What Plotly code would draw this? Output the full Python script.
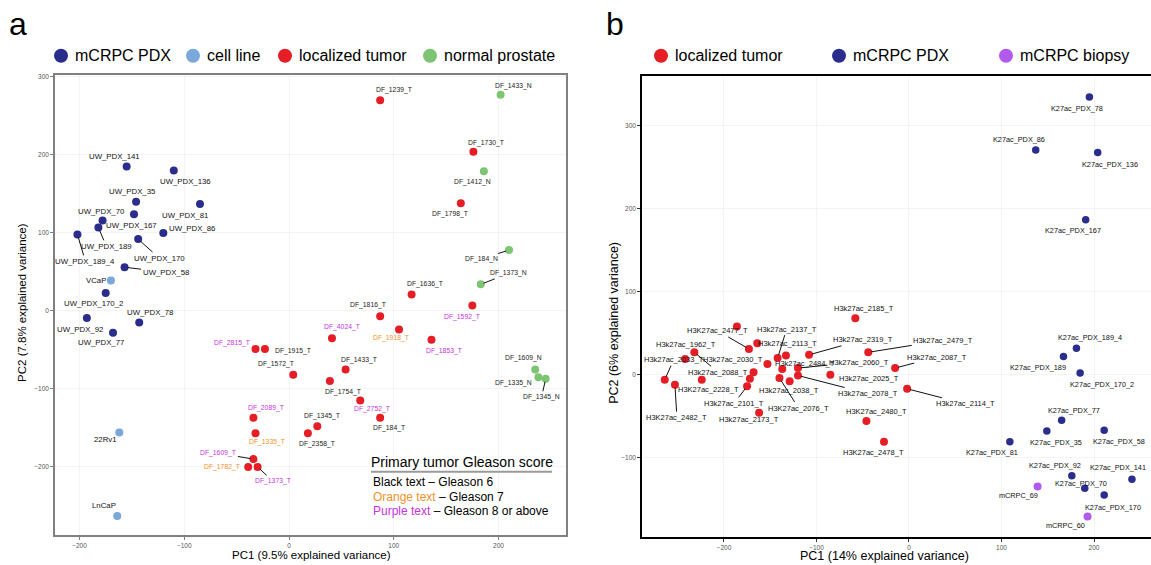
import plotly.graph_objects as go

W, H = 1151, 565

# ---------------- Panel a data ----------------
a_pdx_names = ["UW_PDX_141", "UW_PDX_136", "UW_PDX_35", "UW_PDX_81", "UW_PDX_167", "UW_PDX_70",
               "UW_PDX_189", "UW_PDX_189_4", "UW_PDX_86", "UW_PDX_170", "UW_PDX_58", "UW_PDX_170_2",
               "UW_PDX_92", "UW_PDX_78", "UW_PDX_77"]
a_pdx_pc1 = [-155, -110, -146, -85, -148, -178, -182, -202, -120, -144, -157, -175, -193, -143, -168]
a_pdx_pc2 = [185, 180, 140, 137, 124, 116, 107, 98, 100, 92, 56, 23, -9, -15, -28]

a_cell_names = ["VCaP", "22Rv1", "LnCaP"]
a_cell_pc1 = [-170, -162, -164]
a_cell_pc2 = [39, -156, -263]

a_tumor_names = ["DF_1239_T", "DF_1730_T", "DF_1798_T", "DF_1636_T", "DF_1592_T", "DF_1816_T",
                 "DF_1918_T", "DF_4024_T", "DF_1853_T", "DF_2815_T", "DF_1915_T", "DF_1572_T",
                 "DF_1433_T", "DF_1754_T", "DF_2752_T", "DF_184_T", "DF_2089_T", "DF_1345_T",
                 "DF_1335_T", "DF_2358_T", "DF_1609_T", "DF_1782_T", "DF_1373_T"]
a_tumor_pc1 = [87, 176, 164, 117, 175, 87, 105, 41, 136, -32, -23, 4, 54, 39, 68, 87, -34, 27,
               -32, 18, -34, -39, -30]
a_tumor_pc2 = [270, 204, 138, 21, 7, -7, -24, -35, -37, -49, -49, -82, -75, -90, -115, -137,
               -137, -148, -157, -157, -190, -200, -200]
a_tumor_gleason = [6, 6, 6, 6, 8, 6, 7, 8, 8, 8, 6, 6, 6, 6, 8, 6, 8, 6, 7, 6, 8, 7, 8]

a_normal_names = ["DF_1433_N", "DF_1412_N", "DF_184_N", "DF_1373_N", "DF_1609_N", "DF_1335_N", "DF_1345_N"]
a_normal_pc1 = [202, 186, 210, 183, 235, 238, 245]
a_normal_pc2 = [277, 179, 78, 34, -75, -85, -87]

a_legend = ["mCRPC PDX", "cell line", "localized tumor", "normal prostate"]
a_x_ticks = [-200, -100, 0, 100, 200]
a_y_ticks = [-200, -100, 0, 100, 200, 300]

# ---------------- Panel b data ----------------
b_tumor_names = ["H3k27ac_2185_T", None, None, "H3K27ac_2477_T", "H3k27ac_2088_T", "H3k27ac_1962_T",
                 "H3k27ac_2113_T", "H3k27ac_2137_T", "H3k27ac_2319_T", "H3k27ac_2479_T", "H3k27ac_2030_T",
                 "H3k27ac_2484_T", "H3k27ac_2060_T", "H3k27ac_2087_T", None, "H3k27ac_2033_T",
                 "H3K27ac_2228_T", None, "H3K27ac_2076_T", "H3k27ac_2038_T", "H3k27ac_2078_T",
                 "H3k27ac_2025_T", "H3K27ac_2482_T", "H3k27ac_2101_T", "H3k27ac_2114_T",
                 "H3k27ac_2173_T", "H3K27ac_2480_T", "H3K27ac_2478_T"]
b_tumor_pc1 = [-58, -186, -164, -173, -232, -242, -133, -142, -108, -44, -153, -137, -120, -15, -168,
               -264, -224, -172, -140, -129, -120, -85, -253, -175, -2, -162, -46, -27]
b_tumor_pc2 = [68, 58, 38, 31, 27, 19, 23, 20, 24, 27, 13, 7, 8, 8, 3, -6, -6, -5, -4, -8, -1, 0,
               -12, -14, -17, -46, -56, -81]

b_pdx_names = ["K27ac_PDX_78", "K27ac_PDX_86", "K27ac_PDX_136", "K27ac_PDX_167", "K27ac_PDX_189_4",
               "K27ac_PDX_189", "K27ac_PDX_170_2", "K27ac_PDX_77", "K27ac_PDX_35", "K27ac_PDX_58",
               "K27ac_PDX_81", "K27ac_PDX_92", "K27ac_PDX_141", "K27ac_PDX_70", "K27ac_PDX_170"]
b_pdx_pc1 = [195, 137, 204, 191, 181, 167, 185, 165, 149, 211, 109, 176, 241, 190, 211]
b_pdx_pc2 = [335, 271, 268, 187, 32, 22, 2, -55, -68, -67, -81, -122, -126, -137, -145]

b_biopsy_names = ["mCRPC_69", "mCRPC_60"]
b_biopsy_pc1 = [139, 193]
b_biopsy_pc2 = [-135, -171]

b_legend = ["localized tumor", "mCRPC PDX", "mCRPC biopsy"]
b_x_ticks = [-200, -100, 0, 100, 200]
b_y_ticks = [-100, 0, 100, 200, 300]

# ---------------- label placement (pixel offsets from the point; seg = connector line) ----------------
label_offsets = {
    "UW_PDX_141": (-12, -10, 0), "UW_PDX_136": (12, 11, 0), "UW_PDX_35": (-4, -10, 0),
    "UW_PDX_81": (-15, 11, 0), "UW_PDX_167": (-2, 11, 0), "UW_PDX_70": (-1, -9, 0),
    "UW_PDX_189": (8, 19, 1), "UW_PDX_189_4": (8, 27, 1), "UW_PDX_86": (29, -4, 0),
    "UW_PDX_170": (21, 19, 1), "UW_PDX_58": (41, 5, 1), "UW_PDX_170_2": (-12, 11, 0),
    "UW_PDX_92": (-7, 12, 0), "UW_PDX_78": (11, -10, 0), "UW_PDX_77": (-12, 10, 0),
    "VCaP": (-15, 0, 0), "22Rv1": (-14, 7, 0), "LnCaP": (-13, -11, 0),
    "DF_1239_T": (14, -10, 0), "DF_1730_T": (13, -9, 0), "DF_1798_T": (-11, 11, 0),
    "DF_1636_T": (13, -11, 0), "DF_1592_T": (-10, 12, 0), "DF_1816_T": (-12, -11, 0),
    "DF_1918_T": (-8, 8, 0), "DF_4024_T": (10, -11, 0), "DF_1853_T": (13, 11, 0),
    "DF_2815_T": (-24, -6, 0), "DF_1915_T": (28, 2, 0), "DF_1572_T": (-17, -11, 0),
    "DF_1433_T": (13, -9, 0), "DF_1754_T": (13, 11, 0), "DF_2752_T": (12, 8, 0),
    "DF_184_T": (9, 10, 0), "DF_2089_T": (13, -10, 0), "DF_1345_T": (5, -10, 0),
    "DF_1335_T": (11, 9, 0), "DF_2358_T": (9, 11, 0), "DF_1609_T": (-35, -6, 1),
    "DF_1782_T": (-26, 0, 0), "DF_1373_T": (15, 14, 1),
    "DF_1433_N": (13, -9, 0), "DF_1412_N": (-11, 11, 0), "DF_184_N": (-28, 9, 1),
    "DF_1373_N": (28, -11, 1), "DF_1609_N": (-12, -11, 0), "DF_1335_N": (-25, 6, 0),
    "DF_1345_N": (-4, 18, 1),
    "H3k27ac_2185_T": (9, -10, 0), "H3K27ac_2477_T": (-31, -18, 1), "H3k27ac_2088_T": (24, 20, 1),
    "H3k27ac_1962_T": (1, -14, 0), "H3k27ac_2113_T": (2, -12, 0), "H3k27ac_2137_T": (9, -29, 1),
    "H3k27ac_2319_T": (54, -15, 1), "H3k27ac_2479_T": (75, -12, 1), "H3k27ac_2030_T": (-34, -4, 0),
    "H3k27ac_2484_T": (23, -5, 0), "H3k27ac_2060_T": (61, -6, 1), "H3k27ac_2087_T": (42, -11, 1),
    "H3k27ac_2033_T": (9, -20, 1), "H3K27ac_2228_T": (7, 10, 0), "H3K27ac_2076_T": (19, 30, 1),
    "H3k27ac_2038_T": (-1, 9, 0), "H3k27ac_2078_T": (70, 18, 1), "H3k27ac_2025_T": (39, 4, 0),
    "H3K27ac_2482_T": (2, 33, 1), "H3k27ac_2101_T": (-13, 17, 1), "H3k27ac_2114_T": (58, 15, 1),
    "H3k27ac_2173_T": (-10, 7, 0), "H3K27ac_2480_T": (10, -10, 0), "H3K27ac_2478_T": (-11, 11, 0),
    "K27ac_PDX_78": (-12, 12, 0), "K27ac_PDX_86": (-17, -11, 0), "K27ac_PDX_136": (12, 12, 0),
    "K27ac_PDX_167": (-13, 11, 0), "K27ac_PDX_189_4": (14, -11, 0), "K27ac_PDX_189": (-25, 11, 0),
    "K27ac_PDX_170_2": (22, 11, 0), "K27ac_PDX_77": (12, -10, 0), "K27ac_PDX_35": (9, 11, 0),
    "K27ac_PDX_58": (15, 11, 0), "K27ac_PDX_81": (-18, 11, 0), "K27ac_PDX_92": (-17, -10, 0),
    "K27ac_PDX_141": (-14, -12, 0), "K27ac_PDX_70": (-4, -5, 0), "K27ac_PDX_170": (9, 13, 0),
    "mCRPC_69": (-19, 9, 0), "mCRPC_60": (-22, 9, 0),
}

# ---------------- styles ----------------
FONT = "Liberation Sans, Arial, Helvetica, sans-serif"
NAVY, LBLUE, RED, GREEN, BIOPSY = "#2A2D8C", "#7AA8DA", "#E51E25", "#7DC473", "#B25AEE"
GLEASON_COLOR = {6: "#000000", 7: "#F0922A", 8: "#C633E0"}


def px_x(x):
    return x / W


def px_y(y):
    return 1 - y / H


fig = go.Figure()

# panel a traces
for xs, ys, col, nm in [(a_pdx_pc1, a_pdx_pc2, NAVY, a_legend[0]),
                        (a_cell_pc1, a_cell_pc2, LBLUE, a_legend[1]),
                        (a_tumor_pc1, a_tumor_pc2, RED, a_legend[2]),
                        (a_normal_pc1, a_normal_pc2, GREEN, a_legend[3])]:
    fig.add_trace(go.Scatter(x=xs, y=ys, mode="markers", name=nm, xaxis="x", yaxis="y",
                             marker=dict(size=8, color=col), showlegend=False))

# panel b traces
for xs, ys, col, nm in [(b_tumor_pc1, b_tumor_pc2, RED, b_legend[0]),
                        (b_pdx_pc1, b_pdx_pc2, NAVY, b_legend[1]),
                        (b_biopsy_pc1, b_biopsy_pc2, BIOPSY, b_legend[2])]:
    fig.add_trace(go.Scatter(x=xs, y=ys, mode="markers", name=nm, xaxis="x2", yaxis="y2",
                             marker=dict(size=8 if col != NAVY else 7.5, color=col), showlegend=False))

annotations = []
shapes = []


def add_labels(names, xs, ys, colors, xref, yref, size=7.5):
    for n, x, y, c in zip(names, xs, ys, colors):
        if not n or n not in label_offsets:
            continue
        dx, dy, seg = label_offsets[n]
        f = dict(family=FONT, size=size, color=c)
        if seg:
            annotations.append(dict(x=x, y=y, xref=xref, yref=yref, text=n, showarrow=True,
                                    ax=dx, ay=dy, arrowhead=0, arrowwidth=1, arrowcolor="#111",
                                    standoff=3, font=f))
        else:
            annotations.append(dict(x=x, y=y, xref=xref, yref=yref, text=n, showarrow=False,
                                    xanchor="center", yanchor="middle",
                                    xshift=dx, yshift=-dy, font=f))


add_labels(a_pdx_names, a_pdx_pc1, a_pdx_pc2, ["#111"] * len(a_pdx_names), "x", "y", 7.8)
add_labels(a_cell_names, a_cell_pc1, a_cell_pc2, ["#111"] * 3, "x", "y", 7.8)
add_labels(a_tumor_names, a_tumor_pc1, a_tumor_pc2,
           [GLEASON_COLOR[g] if g != 6 else "#222" for g in a_tumor_gleason], "x", "y", 6.8)
add_labels(a_normal_names, a_normal_pc1, a_normal_pc2, ["#222"] * len(a_normal_names), "x", "y", 6.8)
add_labels(b_tumor_names, b_tumor_pc1, b_tumor_pc2, ["#111"] * len(b_tumor_names), "x2", "y2", 7.5)
add_labels(b_pdx_names, b_pdx_pc1, b_pdx_pc2, ["#111"] * len(b_pdx_names), "x2", "y2", 7.3)
add_labels(b_biopsy_names, b_biopsy_pc1, b_biopsy_pc2, ["#111"] * 2, "x2", "y2", 7.3)


def paper_text(x, y, text, size, xanchor="center", angle=0):
    annotations.append(dict(x=px_x(x), y=px_y(y), xref="paper", yref="paper", text=text, showarrow=False,
                            xanchor=xanchor, yanchor="middle", textangle=angle,
                            font=dict(family=FONT, size=size, color="black")))


# panel letters
paper_text(18, 22, "a", 32)
paper_text(615, 22, "b", 32)


# legends (custom)
def add_legend(items, cols, dot_xs, ly):
    for t, c, dx in zip(items, cols, dot_xs):
        shapes.append(dict(type="circle", xref="paper", yref="paper", xsizemode="pixel", ysizemode="pixel",
                           xanchor=px_x(dx), yanchor=px_y(ly), x0=-7, x1=7, y0=-7, y1=7,
                           fillcolor=c, line=dict(width=0)))
        paper_text(dx + 12, ly, t, 16, xanchor="left")


add_legend(a_legend, [NAVY, LBLUE, RED, GREEN], [61, 193, 285, 430], 54)
add_legend(b_legend, [RED, NAVY, BIOPSY], [661, 839, 1006], 54)

# axis titles
paper_text(311, 555, "PC1 (9.5% explained variance)", 11.5)
paper_text(22, 302, "PC2 (7.8% explained variance)", 11.5, angle=-90)
paper_text(884, 556, "PC1 (14% explained variance)", 12.5)
paper_text(614, 322, "PC2 (6% explained variance)", 12.5, angle=-90)

# Gleason key
paper_text(462, 462, "Primary tumor Gleason score", 14)
shapes.append(dict(type="line", xref="paper", yref="paper", x0=px_x(371), x1=px_x(552), y0=px_y(471.5),
                   y1=px_y(471.5), line=dict(color="#9a9a9a", width=2)))
key_lines = [
    "Black text \u2013 Gleason 6",
    "<span style='color:%s'>Orange text</span> \u2013 Gleason 7" % GLEASON_COLOR[7],
    "<span style='color:%s'>Purple text</span> \u2013 Gleason 8 or above" % GLEASON_COLOR[8],
]
for i, t in enumerate(key_lines):
    paper_text(371, 482 + 14.4 * i, t, 12, xanchor="left")

tickfont = dict(family=FONT, size=6.5, color="#555")
common = dict(showgrid=True, gridcolor="#f4f4f4", gridwidth=1, zeroline=False, ticks="outside",
              ticklen=3, tickfont=tickfont, showline=True)

fig.update_layout(
    width=W, height=H, margin=dict(l=0, r=0, t=0, b=0),
    paper_bgcolor="white", plot_bgcolor="white", showlegend=False,
    xaxis=dict(domain=[px_x(55), px_x(566)], range=[-223.4, 264.4], tickvals=a_x_ticks, anchor="y",
               linecolor="#808080", linewidth=1.5, mirror=True, tickcolor="#808080", **common),
    yaxis=dict(domain=[px_y(535), px_y(73)], range=[-287.4, 302.7], tickvals=a_y_ticks, anchor="x",
               linecolor="#808080", linewidth=1.5, mirror=True, tickcolor="#808080", **common),
    xaxis2=dict(domain=[px_x(642), 1.0], range=[-288.6, 261.6], tickvals=b_x_ticks, anchor="y2",
                linecolor="black", linewidth=1.6, mirror=True, tickcolor="#333", **common),
    yaxis2=dict(domain=[px_y(537), px_y(74)], range=[-195.9, 360.6], tickvals=b_y_ticks, anchor="x2",
                linecolor="black", linewidth=1.6, mirror=False, tickcolor="#333", **common),
    annotations=annotations, shapes=shapes,
)

fig.write_html("out.html", config={"displayModeBar": False},
               post_script="document.body.style.margin='0px';document.body.style.overflow='hidden';")
